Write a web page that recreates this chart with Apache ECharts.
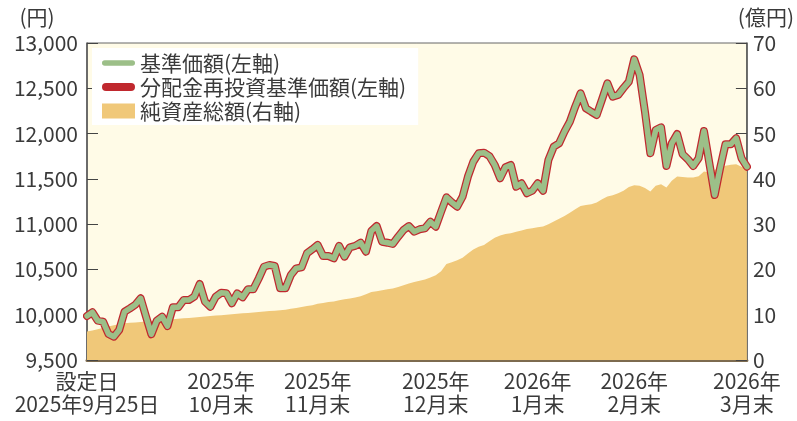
<!DOCTYPE html>
<html>
<head>
<meta charset="utf-8">
<script src="https://cdn.jsdelivr.net/npm/echarts@6/dist/echarts.min.js"></script>
<style>
html,body{margin:0;padding:0;background:#fff;}
#chart{width:797px;height:421px;}
</style>
</head>
<body>
<div id="chart"></div>
<script>
// 基準価額（円） 設定日から営業日ごと
var navValues = [
	9986,10027,9934,9923,9787,9757,9831,10033,10070,10110,
	10181,9980,9784,9934,9978,9875,10082,10082,10162,10162,
	10199,10339,10144,10088,10199,10243,10236,10126,10236,10192,
	10281,10281,10400,10530,10549,10538,10292,10292,10439,10512,
	10523,10678,10722,10770,10648,10648,10623,10759,10641,10744,
	10760,10795,10696,10924,10979,10806,10795,10781,10861,10935,
	10979,10917,10943,10954,11027,10972,11137,11296,11241,11193,
	11303,11524,11689,11782,11789,11752,11653,11506,11628,11653,
	11413,11451,11341,11369,11451,11369,11708,11855,11893,12021,
	12131,12297,12445,12279,12241,12205,12378,12555,12407,12426,
	12503,12573,12820,12647,12241,11782,12039,12069,11642,11893,
	11995,11774,11716,11642,11727,12028,11672,11322,11617,11882,
	11882,11948,11727,11634
];
// 分配金再投資基準価額（分配なしのため同値）
var reinvestValues = navValues.slice();
// 純資産総額（億円）
var assetValues = [
	6.3,6.5,6.8,7.1,7.4,7.7,7.9,8.1,8.2,8.3,
	8.4,8.5,8.6,8.7,8.8,8.9,9.0,9.1,9.2,9.3,
	9.4,9.5,9.6,9.7,9.8,9.9,10.0,10.1,10.2,10.3,
	10.4,10.5,10.6,10.7,10.8,10.9,11.0,11.1,11.3,11.5,
	11.7,11.9,12.1,12.4,12.6,12.8,12.9,13.2,13.4,13.6,
	13.8,14.1,14.5,15.0,15.2,15.4,15.6,15.8,16.1,16.5,
	16.9,17.2,17.5,17.8,18.2,18.7,19.6,21.2,21.6,22.0,
	22.6,23.5,24.4,25.0,25.4,26.2,27.0,27.5,27.8,28.0,
	28.3,28.6,28.9,29.1,29.3,29.5,30.0,30.6,31.2,31.8,
	32.5,33.3,34.0,34.2,34.4,34.8,35.5,36.1,36.4,36.8,
	37.4,38.2,38.6,38.5,38.0,37.2,38.5,38.8,38.1,39.6,
	40.5,40.4,40.3,40.3,40.6,41.6,41.4,42.0,42.4,42.9,
	43.1,43.2,42.7,42.2
];
// 目盛り（営業日の位置と表示ラベル）
var tickIndex = [0, 25, 43, 65, 84, 102, 123];
var tickLabels = [
	'設定日\n2025年9月25日',
	'2025年\n10月末',
	'2025年\n11月末',
	'2025年\n12月末',
	'2026年\n1月末',
	'2026年\n2月末',
	'2026年\n3月末'
];
var categories = navValues.map(function(v, i){ return String(i); });

var FONT = '"Noto Sans CJK JP", "Noto Sans", sans-serif';
var TEXT = '#3a3a3a';
// 凡例の線アイコン（両端丸）
var THIN_LINE = 'path://M2.75,0 L30.25,0 A2.75,2.75 0 0 1 30.25,5.5 L2.75,5.5 A2.75,2.75 0 0 1 2.75,0 Z';
var THICK_LINE = 'path://M4,0 L29,0 A4,4 0 0 1 29,8 L4,8 A4,4 0 0 1 4,0 Z';

function drawChart(){
	var myChart = echarts.init(document.getElementById('chart'));
	var option = {
		animation: false,
		textStyle: {fontFamily: FONT, color: TEXT},
		grid: {
			left: 87, right: 45, top: 43, bottom: 61,
			show: true,
			backgroundColor: '#fffbe7',
			borderColor: '#666',
			borderWidth: 1
		},
		legend: {
			orient: 'vertical',
			left: 92, top: 48,
			backgroundColor: '#fff',
			padding: [4, 12, 3, 10],
			itemWidth: 33, itemHeight: 15, itemGap: 2,
			symbolKeepAspect: true,
			textStyle: {fontFamily: FONT, fontSize: 21, color: TEXT, lineHeight: 22},
			data: [
				{name: '基準価額(左軸)', icon: THIN_LINE},
				{name: '分配金再投資基準価額(左軸)', icon: THICK_LINE},
				{name: '純資産総額(右軸)', icon: 'rect'}
			]
		},
		xAxis: {
			type: 'category',
			data: categories,
			boundaryGap: false,
			axisLine: {lineStyle: {color: '#7d6b4f', width: 3}},
			axisTick: {
				inside: true, length: 11,
				lineStyle: {color: '#444', width: 1},
				interval: function(i){ return tickIndex.indexOf(i) > 0 && i < 123; }
			},
			axisLabel: {
				interval: function(i){ return tickIndex.indexOf(i) >= 0; },
				formatter: function(v, i){ return tickLabels[tickIndex.indexOf(i)]; },
				margin: 10,
				fontSize: 21, lineHeight: 23, color: TEXT, fontFamily: FONT
			},
			splitLine: {show: false}
		},
		yAxis: [
			{
				type: 'value',
				min: 9500, max: 13000, interval: 500,
				name: '(円)',
				nameLocation: 'end',
				nameGap: 15,
				nameTextStyle: {fontSize: 21, color: TEXT, fontFamily: FONT, align: 'center', padding: [0, 100, 0, 0]},
				axisLine: {show: true, lineStyle: {color: '#555', width: 1.5}},
				axisTick: {show: true, inside: true, length: 11, lineStyle: {color: '#444'}},
				axisLabel: {
					fontSize: 21, color: TEXT, fontFamily: FONT, margin: 9,
					formatter: function(v){ return v.toLocaleString('en-US'); }
				},
				splitLine: {show: false}
			},
			{
				type: 'value',
				min: 0, max: 70, interval: 10,
				name: '(億円)',
				nameLocation: 'end',
				nameGap: 15,
				nameTextStyle: {fontSize: 21, color: TEXT, fontFamily: FONT, align: 'center', padding: [0, 0, 0, 38]},
				axisLine: {show: true, lineStyle: {color: '#555', width: 1.5}},
				axisTick: {show: true, inside: true, length: 11, lineStyle: {color: '#444'}},
				axisLabel: {fontSize: 21, color: TEXT, fontFamily: FONT, margin: 6},
				splitLine: {show: false}
			}
		],
		series: [
			{
				name: '純資産総額(右軸)',
				type: 'line',
				yAxisIndex: 1,
				data: assetValues,
				symbol: 'none',
				color: '#f0c879',
				lineStyle: {width: 0},
				areaStyle: {color: '#f0c879', opacity: 1},
				z: 1
			},
			{
				name: '分配金再投資基準価額(左軸)',
				type: 'line',
				data: reinvestValues,
				symbol: 'none',
				color: '#c0282e',
				lineStyle: {width: 8, color: '#c0282e', cap: 'round', join: 'round'},
				z: 2
			},
			{
				name: '基準価額(左軸)',
				type: 'line',
				data: navValues,
				symbol: 'none',
				color: '#9cbf88',
				lineStyle: {width: 5.5, color: '#9cbf88', cap: 'round', join: 'round'},
				z: 3
			}
		]
	};
	myChart.setOption(option);
}
window.addEventListener('load', drawChart);
</script>
</body>
</html>
